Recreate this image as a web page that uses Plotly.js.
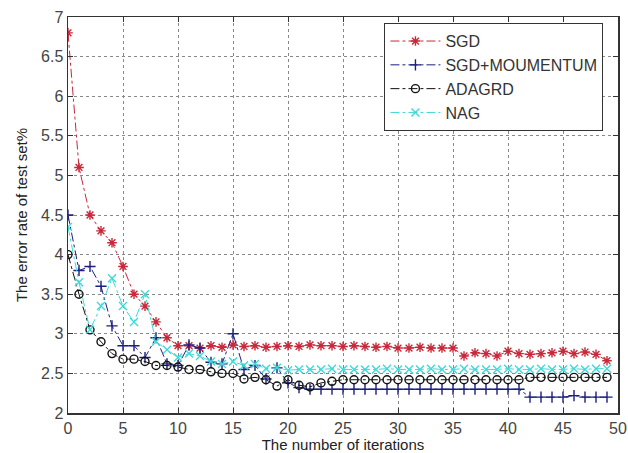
<!DOCTYPE html>
<html>
<head>
<meta charset="utf-8">
<script src="https://cdn.plot.ly/plotly-3.0.1.min.js"></script>
<style>html,body{margin:0;padding:0;background:#fff;}#chart{width:628px;height:453px;}</style>
</head>
<body>
<div id="chart"></div>
<script>
const iterations = Array.from({length: 50}, (_, i) => i);
const sgd = [6.8,5.1,4.5,4.3,4.15,3.85,3.5,3.35,3.15,2.95,2.85,2.85,2.82,2.85,2.83,2.86,2.84,2.85,2.83,2.84,2.85,2.84,2.86,2.85,2.85,2.84,2.85,2.84,2.83,2.84,2.82,2.82,2.83,2.82,2.82,2.82,2.72,2.76,2.75,2.72,2.78,2.75,2.74,2.75,2.76,2.78,2.75,2.77,2.74,2.66];
const momentum = [4.5,3.8,3.85,3.6,3.1,2.85,2.85,2.7,2.95,2.62,2.6,2.86,2.82,2.64,2.62,3.0,2.55,2.6,2.43,2.57,2.38,2.32,2.3,2.3,2.3,2.3,2.3,2.3,2.3,2.3,2.3,2.3,2.3,2.3,2.3,2.3,2.3,2.3,2.3,2.3,2.3,2.3,2.2,2.2,2.2,2.2,2.22,2.2,2.2,2.2];
const adagrd = [4.0,3.5,3.05,2.9,2.75,2.68,2.68,2.65,2.6,2.6,2.58,2.55,2.55,2.52,2.5,2.5,2.43,2.45,2.42,2.34,2.42,2.35,2.33,2.38,2.4,2.42,2.42,2.42,2.42,2.42,2.42,2.42,2.42,2.42,2.42,2.42,2.42,2.42,2.42,2.42,2.42,2.42,2.45,2.45,2.45,2.45,2.45,2.45,2.45,2.45];
const nag = [4.35,3.65,3.05,3.35,3.7,3.35,3.15,3.5,2.9,2.8,2.7,2.75,2.72,2.65,2.62,2.65,2.6,2.62,2.56,2.57,2.54,2.55,2.55,2.55,2.56,2.55,2.55,2.55,2.55,2.56,2.55,2.55,2.55,2.56,2.55,2.55,2.56,2.55,2.55,2.55,2.56,2.55,2.55,2.56,2.55,2.55,2.56,2.55,2.56,2.56];
const seriesNames = ['SGD','SGD+MOUMENTUM','ADAGRD','NAG'];
const xTicks = [0,5,10,15,20,25,30,35,40,45,50];
const yTicks = [2,2.5,3,3.5,4,4.5,5,5.5,6,6.5,7];

const colors = ['#c8283a','#1c1f80','#111111','#40d8d8'];
const symbols = ['asterisk-open','cross-thin-open','circle-open','x-thin-open'];
const data = [sgd, momentum, adagrd, nag].map((ys, i) => ({
  x: iterations, y: ys, name: seriesNames[i], type: 'scatter', mode: 'lines+markers',
  line: {color: colors[i], width: 1, dash: 'dashdot'},
  marker: {symbol: symbols[i], size: 8, color: colors[i], line: {color: colors[i], width: 1.4}}
}));

const font = 'Liberation Sans, Arial';
const axisCommon = {
  showline: true, mirror: 'ticks', linecolor: '#333', linewidth: 1.5,
  ticks: 'inside', ticklen: 5, tickcolor: '#333',
  showgrid: true, gridcolor: '#888', griddash: 'dot', gridwidth: 1,
  zeroline: false, ticklabeloverflow: 'allow',
  tickfont: {family: font, size: 16, color: '#444'}
};
const layout = {
  width: 628, height: 453,
  margin: {l: 68, r: 10, t: 17, b: 40},
  paper_bgcolor: '#fff', plot_bgcolor: '#fff',
  showlegend: true,
  legend: {x: 0.575, y: 0.985, xanchor: 'left', yanchor: 'top', bgcolor: '#fff',
           bordercolor: '#333', borderwidth: 1.2, itemwidth: 50,
           font: {family: font, size: 16, color: '#333'}, tracegroupgap: 0},
  xaxis: Object.assign({}, axisCommon, {range: [0, 50], tickvals: xTicks, ticktext: xTicks.map(String),
    title: {text: 'The number of iterations', font: {family: font, size: 15, color: '#222'}, standoff: 0}}),
  yaxis: Object.assign({}, axisCommon, {range: [2, 7], tickvals: yTicks, ticktext: yTicks.map(String),
    title: {text: 'The error rate of test set%', font: {family: font, size: 15, color: '#222'}, standoff: 10}})
};
Plotly.newPlot('chart', data, layout, {displayModeBar: false, staticPlot: true});
</script>
</body>
</html>
